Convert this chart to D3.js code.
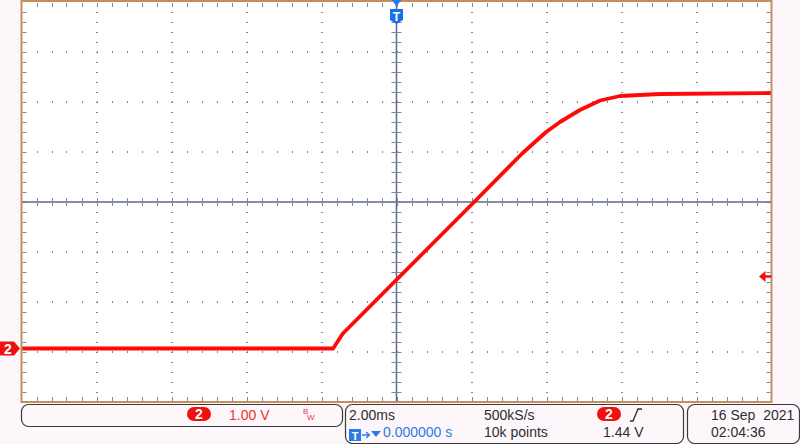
<!DOCTYPE html>
<html>
<head>
<meta charset="utf-8">
<script src="https://cdn.jsdelivr.net/npm/d3@7"></script>
<style>
  body { margin: 0; background: #fdf7fc; }
  svg { display: block; }
</style>
</head>
<body>
<div id="scope"></div>
<script>
// trace: time in ms, channel 2 in volts
const timeMs = [-10, -1.69, -1.43, 2.07, 3.35, 3.99, 4.36, 4.89, 5.43, 5.96, 7.03, 10];
const volts  = [0, 0, 0.30, 2.93, 3.90, 4.33, 4.53, 4.77, 4.96, 5.05, 5.09, 5.11];

const timeDivs = [-5, -4, -3, -2, -1, 0, 1, 2, 3, 4, 5];
const voltDivs = [-4, -3, -2, -1, 0, 1, 2, 3, 4];

const chScale = "1.00 V";
const timeBase = "2.00ms";
const sampleRate = "500kS/s";
const trigDelay = "0.000000 s";
const recLength = "10k points";
const trigLevel = 1.44;
const dateLabel = "16 Sep  2021";
const timeLabel = "02:04:36";

let W = 800, H = 444;
let plot = { left: 21.5, right: 771.5, top: 2, bottom: 402 };
let groundOffsetDiv = -2.93; // channel 2 zero level, in divisions from centre
let traceColor = "#ff0a0a";
let gridColor = "#7d86a3";
let axisColor = "#5b6a8a";
let font = "'Liberation Sans', Arial, sans-serif";

let svg = d3.select("#scope").append("svg")
  .attr("width", W)
  .attr("height", H);

svg.append("rect").attr("width", W).attr("height", H).attr("fill", "#fdf7fc");

// division scales
let gx = d3.scaleLinear().domain([-5, 5]).range([plot.left, plot.right]);
let gy = d3.scaleLinear().domain([-4, 4]).range([plot.bottom, plot.top]);
// data scales
let x = d3.scaleLinear().domain([-10, 10]).range([plot.left, plot.right]);
let y = d3.scaleLinear().domain([-4 - groundOffsetDiv, 4 - groundOffsetDiv]).range([plot.bottom, plot.top]);

svg.append("rect")
  .attr("x", plot.left).attr("y", plot.top)
  .attr("width", plot.right - plot.left).attr("height", plot.bottom - plot.top)
  .attr("fill", "white");

let grid = svg.append("g").attr("fill", gridColor);

// dotted grid: minor dots along each major line
let minorX = d3.range(-5, 5.001, 0.2);
let minorY = d3.range(-4, 4.001, 0.2);
voltDivs.slice(1, -1).forEach(v => {
  if (v === 0) return;
  grid.selectAll(null).data(minorX.slice(1, -1)).enter().append("rect")
    .attr("x", d => Math.round(gx(d)))
    .attr("y", Math.round(gy(v)) - 1)
    .attr("width", 1).attr("height", 2);
});
timeDivs.slice(1, -1).forEach(t => {
  if (t === 0) return;
  grid.selectAll(null).data(minorY.slice(1, -1)).enter().append("rect")
    .attr("x", Math.round(gx(t)) - 1)
    .attr("y", d => Math.round(gy(d)))
    .attr("width", 2).attr("height", 1);
});

// edge ticks
grid.selectAll(null).data(minorY.slice(1, -1)).enter().append("rect")
  .attr("x", plot.left + 1).attr("y", d => Math.round(gy(d)))
  .attr("width", 4).attr("height", 1);
grid.selectAll(null).data(minorY.slice(1, -1)).enter().append("rect")
  .attr("x", plot.right - 5).attr("y", d => Math.round(gy(d)))
  .attr("width", 4).attr("height", 1);
grid.selectAll(null).data(minorX.slice(1, -1)).enter().append("rect")
  .attr("x", d => Math.round(gx(d))).attr("y", plot.top + 1)
  .attr("width", 1).attr("height", 4);
grid.selectAll(null).data(minorX.slice(1, -1)).enter().append("rect")
  .attr("x", d => Math.round(gx(d))).attr("y", plot.bottom - 5)
  .attr("width", 1).attr("height", 4);

// centre axes with ticks
let axes = svg.append("g").attr("stroke", axisColor).attr("stroke-width", 1.5);
axes.append("line")
  .attr("x1", plot.left).attr("x2", plot.right)
  .attr("y1", gy(0)).attr("y2", gy(0));
axes.append("line")
  .attr("x1", gx(0)).attr("x2", gx(0))
  .attr("y1", plot.top).attr("y2", plot.bottom);

let cticks = svg.append("g").attr("fill", gridColor);
cticks.selectAll(null).data(minorX.slice(1, -1)).enter().append("rect")
  .attr("x", d => Math.round(gx(d)))
  .attr("y", gy(0) - 4).attr("width", 1).attr("height", 8);
cticks.selectAll(null).data(minorY.slice(1, -1)).enter().append("rect")
  .attr("x", gx(0) - 5)
  .attr("y", d => Math.round(gy(d))).attr("width", 10).attr("height", 1);

// waveform
let line = d3.line()
  .x((d, i) => x(timeMs[i]))
  .y(d => y(d));

svg.append("path")
  .attr("fill", "none")
  .attr("stroke", traceColor)
  .attr("stroke-width", 3.8)
  .attr("stroke-linejoin", "round")
  .attr("d", line(volts));

// border
svg.append("rect")
  .attr("x", plot.left).attr("y", plot.top - 1)
  .attr("width", plot.right - plot.left).attr("height", plot.bottom - plot.top + 1)
  .attr("fill", "none")
  .attr("stroke", "#c48f5c")
  .attr("stroke-width", 2);

// channel ground marker
let gY = y(0);
svg.append("path")
  .attr("d", `M0,${gY - 7}H14L20,${gY}L14,${gY + 7}H0Z`)
  .attr("fill", "#f01010");
svg.append("text")
  .attr("x", 8).attr("y", gY + 5)
  .attr("text-anchor", "middle")
  .attr("font-family", font).attr("font-weight", "bold").attr("font-size", 14)
  .attr("fill", "white")
  .text("2");

// trigger level marker
let tY = y(trigLevel);
svg.append("path")
  .attr("d", `M${plot.right - 12.5},${tY}L${plot.right - 6},${tY - 5.5}V${tY + 5.5}Z`)
  .attr("fill", "#f01010");
svg.append("line")
  .attr("x1", plot.right - 7).attr("x2", plot.right)
  .attr("y1", tY).attr("y2", tY)
  .attr("stroke", "#f01010").attr("stroke-width", 2.5);

// trigger position marker
let tX = gx(0);
svg.append("path")
  .attr("d", `M${tX - 5},0H${tX + 5}L${tX},6Z`)
  .attr("fill", "#2a78f0");
svg.append("path")
  .attr("d", `M${tX - 6.5},9H${tX + 6.5}V20L${tX},24L${tX - 6.5},20Z`)
  .attr("fill", "#1a6fe8");
svg.append("text")
  .attr("x", tX).attr("y", 21)
  .attr("text-anchor", "middle")
  .attr("font-family", font).attr("font-weight", "bold").attr("font-size", 12)
  .attr("fill", "white")
  .text("T");

// status boxes
let status = svg.append("g").attr("font-family", font).attr("font-size", 14);
function box(x0, x1, y0, y1) {
  status.append("rect")
    .attr("x", x0 + 0.5).attr("y", y0 + 0.5)
    .attr("width", x1 - x0).attr("height", y1 - y0)
    .attr("rx", 7)
    .attr("fill", "#fdf7fc")
    .attr("stroke", "#3a3a3a").attr("stroke-width", 1.2);
}
function badge(cx, cy) {
  status.append("rect")
    .attr("x", cx - 12).attr("y", cy - 7)
    .attr("width", 24).attr("height", 14).attr("rx", 7)
    .attr("fill", "#f01010");
  status.append("text")
    .attr("x", cx).attr("y", cy + 5)
    .attr("text-anchor", "middle")
    .attr("font-weight", "bold")
    .attr("fill", "white")
    .text("2");
}

box(21, 342, 404, 426);
box(345, 683, 404, 443);
box(687, 799, 404, 443);

badge(199, 414);
status.append("text").attr("x", 229).attr("y", 420).attr("fill", "#f03030").text(chScale);
status.append("text").attr("x", 303).attr("y", 414).attr("font-size", 8).attr("fill", "#f03030").text("B");
status.append("text").attr("x", 307).attr("y", 420).attr("font-size", 8).attr("fill", "#f03030").text("W");

let dark = "#2e2e2e";
status.append("text").attr("x", 349).attr("y", 420).attr("fill", dark).text(timeBase);
status.append("text").attr("x", 484).attr("y", 420).attr("fill", dark).text(sampleRate);
badge(609, 414);
status.append("path")
  .attr("d", "M630,421H633L638,409H642")
  .attr("fill", "none").attr("stroke", dark).attr("stroke-width", 1.3);

let blue = "#2a7be8";
status.append("rect")
  .attr("x", 349).attr("y", 429).attr("width", 12).attr("height", 12)
  .attr("fill", blue);
status.append("text")
  .attr("x", 355).attr("y", 439.5).attr("text-anchor", "middle")
  .attr("font-size", 11).attr("font-weight", "bold").attr("fill", "white")
  .text("T");
status.append("path")
  .attr("d", "M362,435H369M366,432L369.5,435L366,438")
  .attr("fill", "none").attr("stroke", blue).attr("stroke-width", 1.3);
status.append("path")
  .attr("d", "M371,431H381L376,437Z")
  .attr("fill", blue);
status.append("text").attr("x", 383).attr("y", 437).attr("fill", blue).text(trigDelay);
status.append("text").attr("x", 484).attr("y", 437).attr("fill", dark).text(recLength);
status.append("text").attr("x", 603).attr("y", 437).attr("fill", dark).text(trigLevel.toFixed(2) + " V");

status.append("text").attr("x", 711).attr("y", 420).attr("fill", dark).attr("xml:space", "preserve").text(dateLabel);
status.append("text").attr("x", 711).attr("y", 437).attr("fill", dark).text(timeLabel);
</script>
</body>
</html>
